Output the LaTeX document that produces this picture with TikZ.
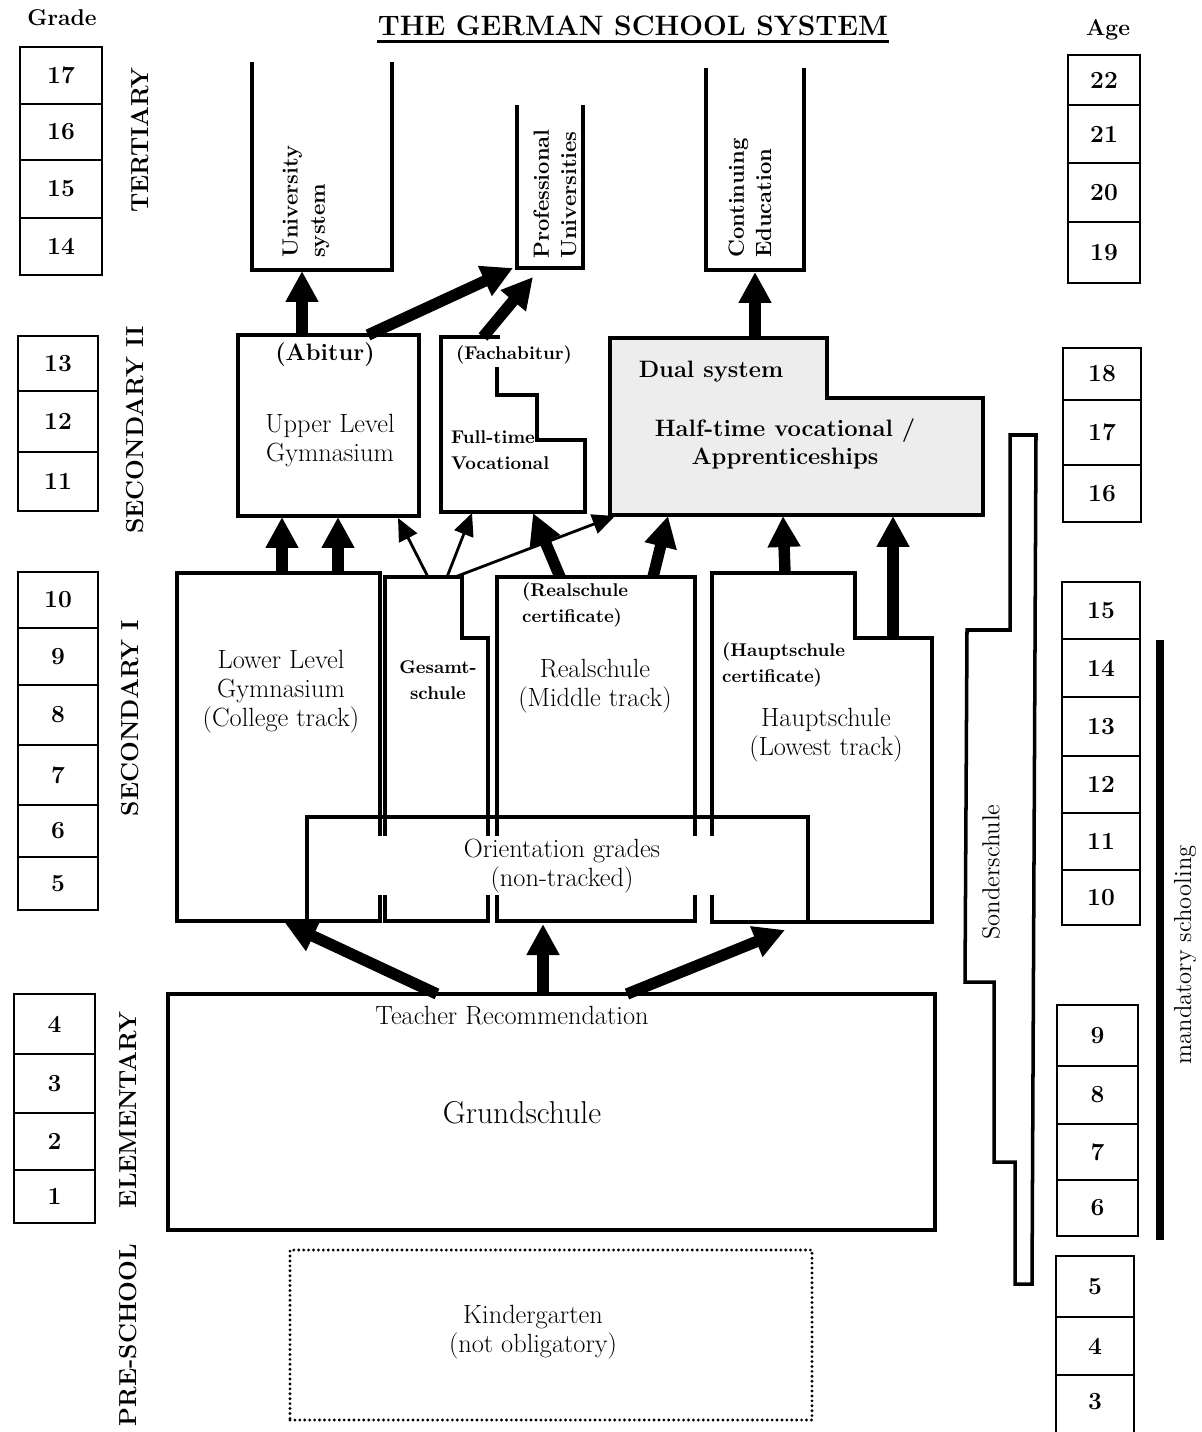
\documentclass[tikz,border=0pt]{standalone}
\usepackage{tikz}
\usetikzlibrary{arrows.meta}
\newcommand\setfs[2]{\fontsize{#1}{#2}\selectfont}

\begin{document}
\begin{tikzpicture}
  [
    x=0.02cm, y=-0.02cm,
    wall/.style={line width=2pt},
    cell/.style={line width=1.5pt},
    box/.style 2 args={draw, line width=2pt, minimum width=#1*0.02cm, minimum height=#2*0.02cm, inner sep=0pt},
    dotbox/.style 2 args={draw, line width=1.8pt, dash pattern=on 0pt off 2.8pt, line cap=round, minimum width=#1*0.02cm, minimum height=#2*0.02cm, inner sep=0pt},
    title/.style={font=\setfs{16}{19}\bfseries, inner sep=0pt},
    hdr/.style={font=\setfs{13}{15}\bfseries},
    num/.style={font=\setfs{14}{16}\bfseries},
    stage/.style={rotate=90, font=\setfs{14}{16}\bfseries},
    lbl/.style={align=center, font=\setfs{15}{16.5}},
    lblb/.style={align=center, font=\setfs{13.5}{16}\bfseries},
    small/.style={align=center, font=\setfs{10.5}{14.5}\bfseries},
    big/.style={font=\setfs{18}{20}},
    vlbl/.style={rotate=90, anchor=west, align=left, font=\setfs{12.5}{15.5}\bfseries},
    vtxt/.style={rotate=90, font=\setfs{14}{16}},
    bigarrow/.style={line width=6.5pt, -{Triangle[length=0.62cm, width=0.62cm]}},
    thinarrow/.style={line width=1.6pt, -{Triangle[length=0.45cm, width=0.4cm]}}
  ]

  \useasboundingbox (0,0) rectangle (1202,1432);

  \node[title, anchor=base] (Title) at (633,36) {THE GERMAN SCHOOL SYSTEM};
  \draw[line width=1.6pt] ([yshift=-3pt]Title.base west) -- ([yshift=-3pt]Title.base east);
  \node[hdr] (GradeHdr) at (62,18) {Grade};
  \node[hdr] (AgeHdr) at (1108,30) {Age};

  \foreach \n/\l/\r/\a/\b in {17/20/102/47/104, 16/20/102/104/160, 15/20/102/160/218, 14/20/102/218/275,
    13/18/98/336/391, 12/18/98/391/452, 11/18/98/452/511,
    10/18/98/572/628, 9/18/98/628/685, 8/18/98/685/745, 7/18/98/745/805, 6/18/98/805/857, 5/18/98/857/910,
    4/14/95/994/1054, 3/14/95/1054/1113, 2/14/95/1113/1170, 1/14/95/1170/1223}
  {
    \draw[cell] (\l,\a) rectangle (\r,\b);
    \node[num] (G\n) at ({(\l+\r)/2},{(\a+\b)/2}) {\n};
  }

  \foreach \n/\l/\r/\a/\b in {22/1068/1140/55/105, 21/1068/1140/105/163, 20/1068/1140/163/222, 19/1068/1140/222/283,
    18/1063/1141/348/400, 17/1063/1141/400/465, 16/1063/1141/465/522,
    15/1062/1140/582/639, 14/1062/1140/639/697, 13/1062/1140/697/756, 12/1062/1140/756/813, 11/1062/1140/813/870, 10/1062/1140/870/925,
    9/1057/1138/1005/1066, 8/1057/1138/1066/1124, 7/1057/1138/1124/1180, 6/1057/1138/1180/1236,
    5/1056/1134/1256/1317, 4/1056/1134/1317/1375}
  {
    \draw[cell] (\l,\a) rectangle (\r,\b);
    \node[num] (A\n) at ({(\l+\r)/2},{(\a+\b)/2}) {\n};
  }
  \draw[cell] (1056,1432) -- (1056,1375);
  \draw[cell] (1134,1432) -- (1134,1375);
  \node[num] (A3) at (1095,1402) {3};

  \node[stage] (Tertiary) at (140,140) {TERTIARY};
  \node[stage] (SecTwo) at (135,430) {SECONDARY II};
  \node[stage] (SecOne) at (130,718) {SECONDARY I};
  \node[stage] (Elem) at (128,1110) {ELEMENTARY};
  \node[stage] (PreSchool) at (128,1335) {PRE-SCHOOL};

  \draw[wall] (252,62) -- (252,270) -- (392,270) -- (392,62);
  \draw[wall] (517,105) -- (517,268) -- (583,268) -- (583,105);
  \draw[wall] (706,68) -- (706,270) -- (804,270) -- (804,68);
  \node[vlbl] (Uni) at (306,264) {University\\system};
  \node[vlbl] (ProfUni) at (555,265) {Professional\\Universities};
  \node[vlbl] (ContEd) at (750,264) {Continuing\\Education};

  \node[box={181}{181}] (UpperGym) at (328.5,425.5) {};
  \node[lblb] (Abitur) at (325,355) {(Abitur)};
  \node[lbl] (UpperGymTxt) at (330,441) {Upper Level\\Gymnasium};

  \draw[wall] (497,367) -- (497,395) -- (537,395) -- (537,440) -- (585,440) -- (585,512) -- (441,512) -- (441,337) -- (500,337);
  \node[small] (Fachabitur) at (514,355) {(Fachabitur)};
  \node[small, anchor=west, align=left] (FullVoc) at (445,450) {Full-time\\Vocational};

  \draw[wall, fill=black!7] (610,338) -- (827,338) -- (827,398) -- (983,398) -- (983,515) -- (610,515) -- cycle;
  \node[lblb] (Dual) at (711,372) {Dual system};
  \node[lblb] (HalfTime) at (785,444) {Half-time vocational /\\Apprenticeships};

  \node[box={203}{348}] (LowerGym) at (278.5,747) {};
  \draw[wall] (385,921) -- (385,577) -- (462,577) -- (462,638) -- (488,638) -- (488,921) -- cycle;
  \node[box={198}{344}] (Real) at (596,749) {};
  \draw[wall] (712,922) -- (712,573) -- (855,573) -- (855,638) -- (932,638) -- (932,922) -- cycle;

  \fill[white] (307,819) rectangle (808,919);
  \draw[wall] (307,922) -- (307,817) -- (808,817) -- (808,922);
  \foreach \x in {380,385,488,497,695,712}
  {
    \draw[wall] (\x,817) -- (\x,836);
    \draw[wall] (\x,895) -- (\x,922);
  }
  \node[lbl] (Orient) at (562,866) {Orientation grades\\(non-tracked)};

  \node[lbl] (LowerGymTxt) at (281,692) {Lower Level\\Gymnasium\\(College track)};
  \node[small] (GesamtTxt) at (438,680) {Gesamt-\\schule};
  \node[small, anchor=west, align=left] (RealCert) at (516,605) {(Realschule\\certificate)};
  \node[lbl] (RealTxt) at (595,686) {Realschule\\(Middle track)};
  \node[small, anchor=west, align=left] (HauptCert) at (716,665) {(Hauptschule\\certificate)};
  \node[lbl] (HauptTxt) at (826,735) {Hauptschule\\(Lowest track)};

  \draw[wall] (1010,435) -- (1036,435) -- (1032,1284) -- (1015,1284) -- (1015,1162) -- (994,1162) -- (994,982) -- (965,982) -- (967,630) -- (1010,630) -- cycle;
  \node[vtxt] (Sonder) at (991,872) {Sonderschule};

  \node[box={767}{236}] (Grund) at (551.5,1112) {};
  \node[lbl] (Teacher) at (512,1016) {Teacher Recommendation};
  \node[big] (GrundTxt) at (522,1113) {Grundschule};

  \node[dotbox={522}{170}] (Kinder) at (551,1335) {};
  \node[lbl] (KinderTxt) at (533,1332) {Kindergarten\\(not obligatory)};

  \draw[line width=4.5pt] (1160,640) -- (1160,1240);
  \node[vtxt] (Mandatory) at (1185,955) {mandatory schooling};

  \coordinate (UniIn) at (302,271);
  \coordinate (ProfIn1) at (513,268);
  \coordinate (ProfIn2) at (533,277);
  \coordinate (ContIn) at (755,272);
  \coordinate (AbiOut) at (368,335);
  \coordinate (FachOut) at (483,337);
  \coordinate (DualOut) at (755,338);
  \coordinate (UGIn1) at (282,517);
  \coordinate (UGIn2) at (338,517);
  \coordinate (UGIn3) at (398,518);
  \coordinate (FVIn1) at (472,513);
  \coordinate (FVIn2) at (533,513);
  \coordinate (DualIn1) at (615,516);
  \coordinate (DualIn2) at (668,516);
  \coordinate (DualIn3) at (783,516);
  \coordinate (DualIn4) at (893,516);
  \coordinate (GesOut1) at (428,577);
  \coordinate (GesOut2) at (447,577);
  \coordinate (GesOut3) at (455,577);
  \coordinate (RealOut1) at (560,577);
  \coordinate (RealOut2) at (653,577);
  \coordinate (HauptOut1) at (785,573);
  \coordinate (HauptOut2) at (893,638);
  \coordinate (TeachL) at (437,994);
  \coordinate (TeachM) at (543,994);
  \coordinate (TeachR) at (627,994);
  \coordinate (LGIn) at (285,923);
  \coordinate (OrIn) at (543,924);
  \coordinate (HauptIn) at (785,930);

  \draw[bigarrow] (UpperGym.north -| UniIn) -- (UniIn);
  \draw[bigarrow] (AbiOut) -- (ProfIn1);
  \draw[bigarrow] (FachOut) -- (ProfIn2);
  \draw[bigarrow] (DualOut) -- (ContIn);

  \draw[bigarrow] (LowerGym.north -| UGIn1) -- (UGIn1);
  \draw[bigarrow] (LowerGym.north -| UGIn2) -- (UGIn2);
  \draw[thinarrow] (GesOut1) -- (UGIn3);
  \draw[thinarrow] (GesOut2) -- (FVIn1);
  \draw[thinarrow] (GesOut3) -- (DualIn1);
  \draw[bigarrow] (RealOut1) -- (FVIn2);
  \draw[bigarrow] (RealOut2) -- (DualIn2);
  \draw[bigarrow] (HauptOut1) -- (DualIn3);
  \draw[bigarrow] (HauptOut2) -- (DualIn4);

  \draw[bigarrow] (TeachL) -- (LGIn);
  \draw[bigarrow] (TeachM) -- (OrIn);
  \draw[bigarrow] (TeachR) -- (HauptIn);
\end{tikzpicture}
\end{document}
